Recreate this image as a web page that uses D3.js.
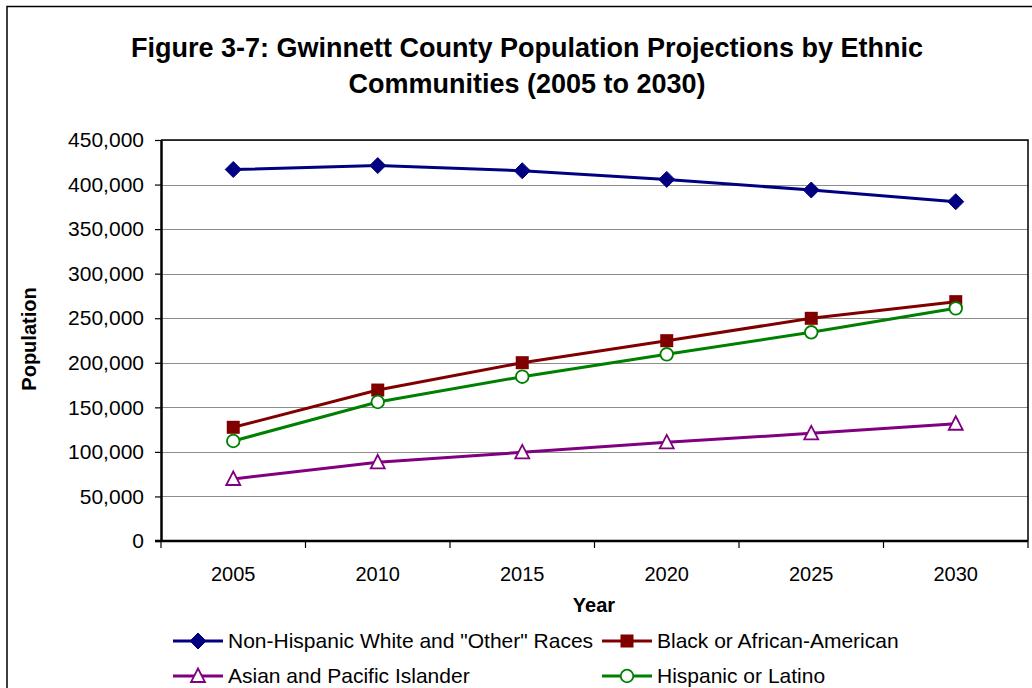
<!DOCTYPE html>
<html>
<head>
<meta charset="utf-8">
<script src="https://cdn.jsdelivr.net/npm/d3@7"></script>
<style>
  html, body { margin: 0; padding: 0; background: #fff; }
  svg { display: block; font-family: "Liberation Sans", Arial, sans-serif; }
</style>
</head>
<body>
<svg id="chart" width="1032" height="688"></svg>
<script>
// Projection years (categories on the x axis)
const years = ["2005", "2010", "2015", "2020", "2025", "2030"];

// Projected population for each ethnic community
const whiteOther = [416900, 421300, 415500, 405800, 393900, 380800];
const blackAfricanAmerican = [127600, 169400, 200100, 224800, 249900, 268600];
const asianPacific = [69600, 88300, 99500, 110700, 120800, 131600];
const hispanicLatino = [112200, 156000, 184400, 209500, 234200, 261100];

// Y axis tick values
const yTicks = [0, 50000, 100000, 150000, 200000, 250000, 300000, 350000, 400000, 450000];

const seriesNames = [
  'Non-Hispanic White and "Other" Races',
  "Black or African-American",
  "Asian and Pacific Islander",
  "Hispanic or Latino"
];

const series = [
  { name: seriesNames[0], values: whiteOther, color: "#000080", marker: "diamond" },
  { name: seriesNames[1], values: blackAfricanAmerican, color: "#800000", marker: "square" },
  { name: seriesNames[2], values: asianPacific, color: "#800080", marker: "triangle" },
  { name: seriesNames[3], values: hispanicLatino, color: "#008000", marker: "circle" }
];

const svg = d3.select("#chart");

// Outer chart frame (left and top edges visible)
svg.append("path")
  .attr("d", "M7,1000 L7,6.5 L1040,6.5")
  .attr("fill", "none")
  .attr("stroke", "#000")
  .attr("stroke-width", 1.5);

const plot = { left: 161, right: 1028, top: 140, bottom: 541 };

const x = d3.scaleBand().domain(years).range([plot.left, plot.right]);
const y = d3.scaleLinear().domain([0, 450000]).range([plot.bottom, plot.top]);

// Title
const title = svg.append("text")
  .attr("text-anchor", "middle")
  .attr("font-weight", "bold")
  .attr("font-size", 27)
  .attr("fill", "#000");
title.append("tspan").attr("x", 527).attr("y", 57)
  .text("Figure 3-7: Gwinnett County Population Projections by Ethnic");
title.append("tspan").attr("x", 527).attr("y", 93)
  .text("Communities (2005 to 2030)");

// Horizontal gridlines
svg.append("g")
  .selectAll("line")
  .data(yTicks.filter(d => d > 0))
  .join("line")
  .attr("x1", plot.left).attr("x2", plot.right)
  .attr("y1", d => Math.round(y(d)) + 0.5).attr("y2", d => Math.round(y(d)) + 0.5)
  .attr("stroke", "#8c8c8c")
  .attr("stroke-width", 1);

// Plot-area border (top and right)
svg.append("path")
  .attr("d", `M${plot.left},${plot.top} L${plot.right},${plot.top} L${plot.right},${plot.bottom}`)
  .attr("fill", "none")
  .attr("stroke", "#000")
  .attr("stroke-width", 1.5);

// Y axis
const yAxis = d3.axisLeft(y)
  .tickValues(yTicks)
  .tickFormat(d3.format(","))
  .tickSizeInner(6)
  .tickSizeOuter(0)
  .tickPadding(11);
const gy = svg.append("g").attr("transform", `translate(${plot.left},0)`).call(yAxis);
gy.select(".domain").attr("stroke", "#000").attr("stroke-width", 2.5);
gy.selectAll(".tick line").attr("stroke", "#000").attr("stroke-width", 1.2);
gy.selectAll(".tick text")
  .attr("font-family", "Liberation Sans, Arial, sans-serif")
  .attr("font-size", 21)
  .attr("fill", "#000");

// X axis: ticks between categories, labels at category centres
const boundaries = d3.range(years.length + 1).map(i => plot.left + i * x.step());
const gx = svg.append("g");
gx.append("line")
  .attr("x1", plot.left - 6).attr("x2", plot.right)
  .attr("y1", plot.bottom).attr("y2", plot.bottom)
  .attr("stroke", "#000").attr("stroke-width", 2.5);
gx.selectAll("line.tk")
  .data(boundaries)
  .join("line")
  .attr("class", "tk")
  .attr("x1", d => d).attr("x2", d => d)
  .attr("y1", plot.bottom).attr("y2", plot.bottom + 7)
  .attr("stroke", "#000").attr("stroke-width", 1.2);
gx.selectAll("text")
  .data(years)
  .join("text")
  .attr("x", d => x(d) + x.bandwidth() / 2)
  .attr("y", 581)
  .attr("text-anchor", "middle")
  .attr("font-size", 20)
  .attr("fill", "#000")
  .text(d => d);

// Axis titles
svg.append("text")
  .attr("x", 594).attr("y", 612)
  .attr("text-anchor", "middle")
  .attr("font-weight", "bold")
  .attr("font-size", 20)
  .text("Year");

svg.append("text")
  .attr("transform", "translate(36,339) rotate(-90)")
  .attr("text-anchor", "middle")
  .attr("font-weight", "bold")
  .attr("font-size", 20)
  .text("Population");

// Marker drawing helper
function drawMarker(sel, type, color) {
  if (type === "diamond") {
    sel.append("path")
      .attr("d", "M0,-8 L8,0 L0,8 L-8,0 Z")
      .attr("fill", color).attr("stroke", color).attr("stroke-width", 1);
  } else if (type === "square") {
    sel.append("rect")
      .attr("x", -6.5).attr("y", -6.5).attr("width", 13).attr("height", 13)
      .attr("fill", color);
  } else if (type === "triangle") {
    sel.append("path")
      .attr("d", "M0,-7.5 L7,6 L-7,6 Z")
      .attr("fill", "#fff").attr("stroke", color).attr("stroke-width", 1.8);
  } else if (type === "circle") {
    sel.append("circle")
      .attr("r", 6.3)
      .attr("fill", "#fff").attr("stroke", color).attr("stroke-width", 1.8);
  }
}

const line = d3.line()
  .x((d, i) => x(years[i]) + x.bandwidth() / 2)
  .y(d => y(d));

const drawOrder = [series[0], series[2], series[1], series[3]];
drawOrder.forEach(s => {
  const g = svg.append("g");
  g.append("path")
    .attr("d", line(s.values))
    .attr("fill", "none")
    .attr("stroke", s.color)
    .attr("stroke-width", 3);
  s.values.forEach((v, i) => {
    const m = g.append("g")
      .attr("transform", `translate(${x(years[i]) + x.bandwidth() / 2},${y(v)})`);
    drawMarker(m, s.marker, s.color);
  });
});

// Legend
const legendPos = [
  { lx: 173, ly: 641 },
  { lx: 602, ly: 641 },
  { lx: 173, ly: 676 },
  { lx: 602, ly: 676 }
];
series.forEach((s, i) => {
  const p = legendPos[i];
  const g = svg.append("g").attr("transform", `translate(${p.lx},${p.ly})`);
  g.append("line")
    .attr("x1", 0).attr("x2", 50).attr("y1", 0).attr("y2", 0)
    .attr("stroke", s.color).attr("stroke-width", 3);
  const m = g.append("g").attr("transform", "translate(25,0)");
  drawMarker(m, s.marker, s.color);
  g.append("text")
    .attr("x", 55).attr("y", 7)
    .attr("font-size", 21)
    .attr("fill", "#000")
    .text(s.name);
});
</script>
</body>
</html>
